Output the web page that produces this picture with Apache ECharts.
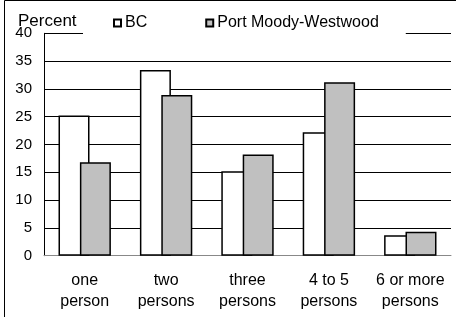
<!DOCTYPE html>
<html>
<head>
<meta charset="utf-8">
<script src="https://cdn.jsdelivr.net/npm/echarts@6/dist/echarts.min.js"></script>
<style>
  html, body { margin: 0; padding: 0; background: #fff; }
  #chart { width: 456px; height: 317px; }
</style>
</head>
<body>
<div id="chart"></div>
<script>
// household size, share of households (%)
const categories = ['one\nperson', 'two\npersons', 'three\npersons', '4 to 5\npersons', '6 or more\npersons']
const bcValues = [25.2, 33.4, 15.2, 22.2, 3.7]
const portMoodyValues = [16.8, 28.9, 18.2, 31.2, 4.3]
const yTicks = [0, 5, 10, 15, 20, 25, 30, 35, 40]

const font = 'Liberation Sans, Arial, sans-serif'

let chart = echarts.init(document.getElementById('chart'), null, { renderer: 'canvas' })

let option = {
  animation: false,
  backgroundColor: '#fff',
  title: {
    text: 'Percent',
    left: 18,
    top: 13,
    padding: 0,
    textStyle: { fontFamily: font, fontSize: 17, fontWeight: 'normal', color: '#000' }
  },
  legend: {
    left: 83,
    top: 10,
    padding: [5, 27, 4, 30],
    backgroundColor: '#fff',
    itemWidth: 7,
    itemHeight: 7,
    itemGap: 58,
    icon: 'rect',
    textStyle: { fontFamily: font, fontSize: 16, color: '#000', padding: [0, 0, 0, -1] },
    data: ['BC', 'Port Moody-Westwood']
  },
  grid: { left: 44, right: 5, top: 33.3, bottom: 61.3, containLabel: false },
  xAxis: {
    type: 'category',
    data: categories,
    axisLine: { lineStyle: { color: '#888', width: 1 } },
    axisTick: { show: false },
    axisLabel: {
      interval: 0,
      hideOverlap: false,
      fontFamily: font,
      fontSize: 16,
      color: '#000',
      lineHeight: 21,
      margin: 14
    }
  },
  yAxis: {
    type: 'value',
    min: yTicks[0],
    max: yTicks[yTicks.length - 1],
    interval: 5,
    axisLine: { show: true, lineStyle: { color: '#000', width: 1 } },
    axisTick: { show: false },
    splitLine: { lineStyle: { color: '#000', width: 1 } },
    axisLabel: { fontFamily: font, fontSize: 15, color: '#000', margin: 12 }
  },
  graphic: [
    {
      type: 'rect',
      shape: { x: 4.5, y: 0.5, width: 600, height: 500 },
      style: { fill: 'none', stroke: '#000', lineWidth: 1 },
      silent: true
    }
  ],
  series: [
    {
      name: 'BC',
      type: 'bar',
      data: bcValues,
      barWidth: 31,
      barGap: '-31%',
      itemStyle: { color: '#fff', borderColor: '#000', borderWidth: 1.5 }
    },
    {
      name: 'Port Moody-Westwood',
      type: 'bar',
      data: portMoodyValues,
      barWidth: 31,
      itemStyle: { color: '#c0c0c0', borderColor: '#000', borderWidth: 1.5 }
    }
  ]
}

chart.setOption(option)
</script>
</body>
</html>
